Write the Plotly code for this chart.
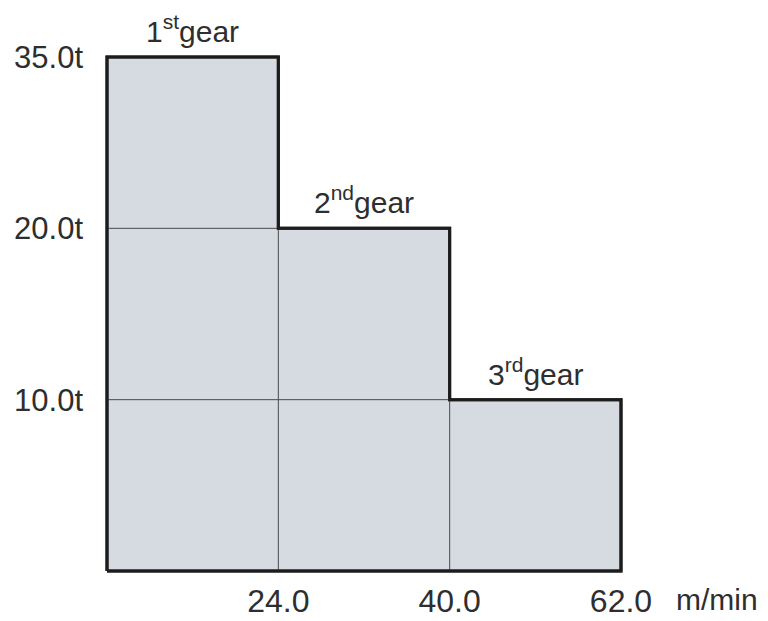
import plotly.graph_objects as go

# Data
gears = ["1<sup>st</sup>gear", "2<sup>nd</sup>gear", "3<sup>rd</sup>gear"]
speeds = ["24.0", "40.0", "62.0"]          # m/min, upper speed limit per gear
loads = ["35.0t", "20.0t", "10.0t"]         # max load per gear
speed_unit = "m/min"

n = len(gears)
# The chart uses equally spaced steps: gear i occupies slot [i, i+1], height = n - i
x_edges = list(range(n + 1))
heights = [n - i for i in range(n)]

FILL = "#d5dbe1"
EDGE = "#1c1c1c"
THIN = "#4a4a4a"
TXT = "#2e2e2e"
FONT = "Liberation Sans"

fig = go.Figure()

# outline polygon (staircase)
ox, oy = [0, 0], [0, heights[0]]
for i in range(n):
    ox += [x_edges[i], x_edges[i + 1]]
    oy += [heights[i], heights[i]]
ox += [x_edges[n], 0]
oy += [0, 0]
fig.add_trace(go.Scatter(x=ox, y=oy, mode="lines", fill="toself", fillcolor=FILL,
                         line=dict(color=EDGE, width=3), hoverinfo="skip", showlegend=False))

# inner thin lines: vertical at step boundaries, horizontal at lower levels
for i in range(1, n):
    h = heights[i]
    fig.add_trace(go.Scatter(x=[x_edges[i], x_edges[i]], y=[0, h], mode="lines",
                             line=dict(color=THIN, width=1), hoverinfo="skip", showlegend=False))
    fig.add_trace(go.Scatter(x=[0, x_edges[i]], y=[h, h], mode="lines",
                             line=dict(color=THIN, width=1), hoverinfo="skip", showlegend=False))

# redraw outline on top of thin lines
fig.add_trace(go.Scatter(x=ox, y=oy, mode="lines",
                         line=dict(color=EDGE, width=3), hoverinfo="skip", showlegend=False))

# gear labels
for i in range(n):
    fig.add_annotation(x=(x_edges[i] + x_edges[i + 1]) / 2, y=heights[i], text=gears[i],
                       showarrow=False, yanchor="bottom", yshift=7,
                       font=dict(family=FONT, size=30, color=TXT))

px = 171.33
W, H = 760, 613
l, r, t, b = 84, 28, 4, 45

# unit label (paper coords computed from the x-axis mapping)
x_lo = -(99 - l) / px
x_hi = n + ((W - r) - 613) / px
unit_x = n + 0.558
fig.add_annotation(x=(unit_x - x_lo) / (x_hi - x_lo), y=0, xref="paper", yref="paper",
                   xanchor="center", yanchor="top", yshift=-5,
                   text=speed_unit, showarrow=False,
                   font=dict(family=FONT, size=30, color=TXT))

fig.update_layout(
    width=W, height=H,
    margin=dict(l=l, r=r, t=t, b=b),
    paper_bgcolor="white", plot_bgcolor="white",
    xaxis=dict(range=[x_lo, x_hi], automargin=False,
               tickvals=x_edges[1:], ticktext=speeds, ticklabelstandoff=3,
               showgrid=False, zeroline=False, showline=False, ticks="",
               tickfont=dict(family=FONT, size=32, color=TXT)),
    yaxis=dict(range=[-((H - b) - 563) / px, n + (49 - t) / px], automargin=False,
               tickvals=heights, ticktext=loads, ticklabelstandoff=8,
               showgrid=False, zeroline=False, showline=False, ticks="",
               tickfont=dict(family=FONT, size=31, color=TXT)),
)

fig.write_html("out.html")
